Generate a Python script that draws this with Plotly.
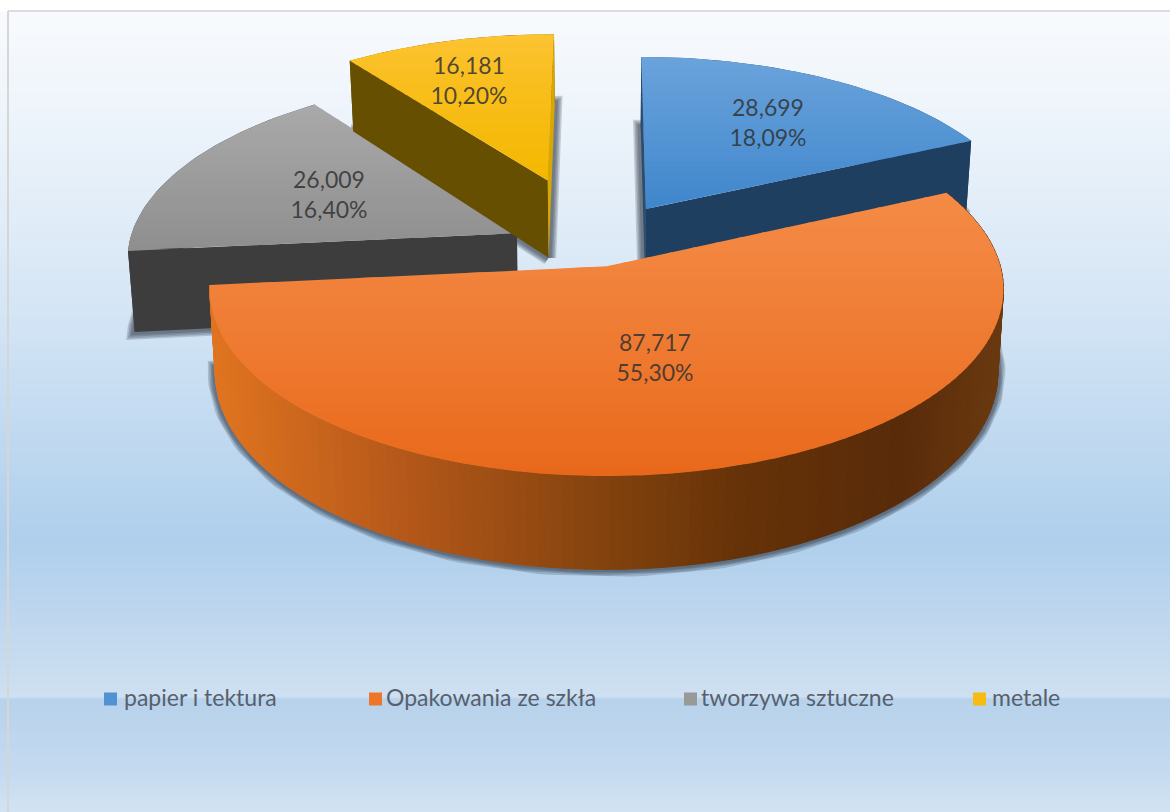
import numpy as np
import plotly.graph_objects as go

# ---- data ----
categories = ["papier i tektura", "Opakowania ze szkła", "tworzywa sztuczne", "metale"]
values = [28.699, 87.717, 26.009, 16.181]
percent_labels = ["18,09%", "55,30%", "16,40%", "10,20%"]

# ---- style ----
top_light = ["#6AA3DB", "#F48A45", "#A9A9A9", "#FCC433"]
top_dark = ["#3F86CC", "#E8681A", "#8E8E8E", "#F4B700"]
top_gamma = [1.0, 1.2, 1.0, 0.8]
rim_col = ["#1F3F60", None, "#3D3D3D", "#664F00"]
start_face = ["#2C4D70", "#7A3E0C", "#3D3D3D", "#664F00"]
end_face = ["#1F3F60", "#7A3E0C", "#3D3D3D", "#D8A800"]
explode = [0.271, 0.10, 0.22, 0.42]
nudge_x = [-1, 5, 3, 5]
label_pos = [(768, 125), (655, 360), (329, 197), (469, 83)]
legend_box_x = [110.5, 375.5, 690.5, 979.5]
legend_text_x = [124, 386, 701, 992]
LEGEND_Y = 700
FONT = "Lato"
FS = 23

# background colour stops: (pixel row, colour)
bg_stops = [(12, "#F8FAFD"), (100, "#EFF5FB"), (300, "#D6E6F5"), (540, "#AFCFEC"), (640, "#C3D9EF"),
            (696, "#CEE0F1"), (699, "#B7D2EB"), (770, "#C4DAF0"), (812, "#D2E3F2")]

# projection of the pie plane on the page
X0, Y0, A, B, K, DEPTH, NARROW = 603.0, 267.0, 394.0, 184.0, 0.123, 82.0, 0.014
CU, CV = -0.03, 0.10


def project(u, v, z=0.0, dx=0.0):
    w = 1 + K * v
    return X0 + dx + (A * u / w) * (1 - NARROW * z), Y0 - B * v / w + z * DEPTH / w


def hex2rgb(c):
    return np.array([int(c[i:i + 2], 16) for i in (1, 3, 5)], float)


def mix(c1, c2, t):
    r = hex2rgb(c1) * (1 - t) + hex2rgb(c2) * t
    return "rgb(%d,%d,%d)" % tuple(r.round())


def clip(poly, limit, keep_below):
    out = []
    n = len(poly)
    for i in range(n):
        p, q = poly[i], poly[(i + 1) % n]
        pin = p[1] >= limit if keep_below else p[1] <= limit
        qin = q[1] >= limit if keep_below else q[1] <= limit
        if pin:
            out.append(p)
        if pin != qin:
            t = (limit - p[1]) / (q[1] - p[1])
            out.append((p[0] + t * (q[0] - p[0]), limit))
    return out


def poly_trace(pts, color, lw=0.0, line_color=None):
    xs = [p[0] for p in pts] + [pts[0][0]]
    ys = [p[1] for p in pts] + [pts[0][1]]
    return go.Scatter(x=xs, y=ys, mode="lines", fill="toself", fillcolor=color,
                      line=dict(width=lw, color=line_color or color), hoverinfo="skip", showlegend=False)


fig = go.Figure()

# background gradient
rows = np.arange(12, 813, 1)
fig.add_trace(go.Heatmap(x=[9, 1170], y=rows, z=[[r, r] for r in rows], zmin=12, zmax=812,
                         colorscale=[[(r - 12) / 800, c] for r, c in bg_stops],
                         showscale=False, hoverinfo="skip"))

total = sum(values)
fractions = [v / total * 360 for v in values]
starts = np.concatenate([[0], np.cumsum(fractions)[:-1]])

slices = []
for i, (s, f) in enumerate(zip(starts, fractions)):
    th = np.radians(np.linspace(s, s + f, max(int(f / 1.5), 8) + 1))
    mid = np.radians(s + f / 2)
    au = CU + explode[i] * np.sin(mid)
    av = CV + explode[i] * np.cos(mid)
    slices.append(dict(th=th, au=au, av=av, ru=au + np.sin(th), rv=av + np.cos(th)))

# soft shadows under every extruded slice
for i, sl in enumerate(slices):
    pts = [project(sl["au"], sl["av"], 1, nudge_x[i])] + [project(u, v, 1, nudge_x[i]) for u, v in zip(sl["ru"], sl["rv"])]
    pts.append(pts[0])
    for width in (15, 12, 9, 6):
        fig.add_trace(go.Scatter(x=[p[0] for p in pts], y=[p[1] for p in pts], mode="lines",
                                 line=dict(width=width, color="rgba(35,45,60,0.2)"),
                                 hoverinfo="skip", showlegend=False))

rim_stops = [(205, "#E2751F"), (400, "#B5581A"), (600, "#84430E"), (740, "#663208"), (900, "#592B09"), (1010, "#6B3A10")]

for i in (0, 2, 3, 1):  # back slices first, the large front slice last
    sl = slices[i]
    dx = nudge_x[i]
    top_arc = [project(u, v, 0, dx) for u, v in zip(sl["ru"], sl["rv"])]
    bot_arc = [project(u, v, 1, dx) for u, v in zip(sl["ru"], sl["rv"])]
    apex, apex_b = project(sl["au"], sl["av"], 0, dx), project(sl["au"], sl["av"], 1, dx)

    # outer rim
    if rim_col[i]:
        fig.add_trace(poly_trace(top_arc + bot_arc[::-1], rim_col[i]))
    else:
        for j in range(len(top_arc) - 1):
            xm = (top_arc[j][0] + top_arc[j + 1][0]) / 2
            col = rim_stops[0][1]
            for (x1, c1), (x2, c2) in zip(rim_stops[:-1], rim_stops[1:]):
                if x1 <= xm <= x2:
                    col = mix(c1, c2, (xm - x1) / (x2 - x1))
            fig.add_trace(poly_trace([top_arc[j], top_arc[j + 1], bot_arc[j + 1], bot_arc[j]], col, 1.0))

    # cut faces, when they turn toward the viewer
    mid_pt = top_arc[len(top_arc) // 2]
    for edge_pt, edge_bot, col in ((top_arc[0], bot_arc[0], start_face[i]), (top_arc[-1], bot_arc[-1], end_face[i])):
        ex, ey = edge_pt[0] - apex[0], edge_pt[1] - apex[1]
        side_down = ex
        side_in = ex * (mid_pt[1] - apex[1]) - ey * (mid_pt[0] - apex[0])
        if side_down * side_in < 0:
            fig.add_trace(poly_trace([apex, edge_pt, edge_bot, apex_b], col))

    # top face in thin horizontal colour bands
    poly = [apex] + top_arc
    ys = [p[1] for p in poly]
    y1, y2 = min(ys), max(ys)
    step = 5
    for y in np.arange(y1, y2, step):
        band = clip(clip(poly, y - 0.6, True), y + step + 0.6, False)
        if len(band) >= 3:
            t = ((y - y1) / max(y2 - y1, 1)) ** top_gamma[i]
            fig.add_trace(poly_trace(band, mix(top_light[i], top_dark[i], t)))

# data labels
for i, v in enumerate(values):
    txt = f"{v:.3f}".replace(".", ",") + "<br>" + percent_labels[i]
    fig.add_trace(go.Scatter(x=[label_pos[i][0]], y=[label_pos[i][1]], mode="text", text=[txt],
                             textposition="middle center",
                             textfont=dict(family=FONT, size=FS, color="rgba(50,50,50,0.85)"),
                             hoverinfo="skip", showlegend=False))

# legend
for i, name in enumerate(categories):
    fig.add_trace(go.Scatter(x=[legend_box_x[i]], y=[LEGEND_Y - 1], mode="markers",
                             marker=dict(symbol="square", size=13, color=mix(top_light[i], top_dark[i], 0.6), line=dict(width=0)),
                             hoverinfo="skip", showlegend=False))
    fig.add_trace(go.Scatter(x=[legend_text_x[i]], y=[LEGEND_Y], mode="text", text=[name],
                             textposition="middle right",
                             textfont=dict(family=FONT, size=FS, color="#56606E"),
                             hoverinfo="skip", showlegend=False))

# outer frame lines
fig.add_shape(type="line", x0=8, x1=1170, y0=11, y1=11, line=dict(color="#DCDCDC", width=2), layer="above")
fig.add_shape(type="line", x0=8, x1=8, y0=11, y1=812, line=dict(color="#D6D6D6", width=2), layer="above")

fig.update_layout(width=1170, height=812, autosize=False, margin=dict(l=0, r=0, t=0, b=0),
                  paper_bgcolor="white", plot_bgcolor="white", showlegend=False,
                  xaxis=dict(range=[0, 1170], visible=False, fixedrange=True),
                  yaxis=dict(range=[812, 0], visible=False, fixedrange=True))
fig.write_html("out.html", config={"displayModeBar": False},
               post_script="document.body.style.margin='0';document.body.style.overflow='hidden';")
